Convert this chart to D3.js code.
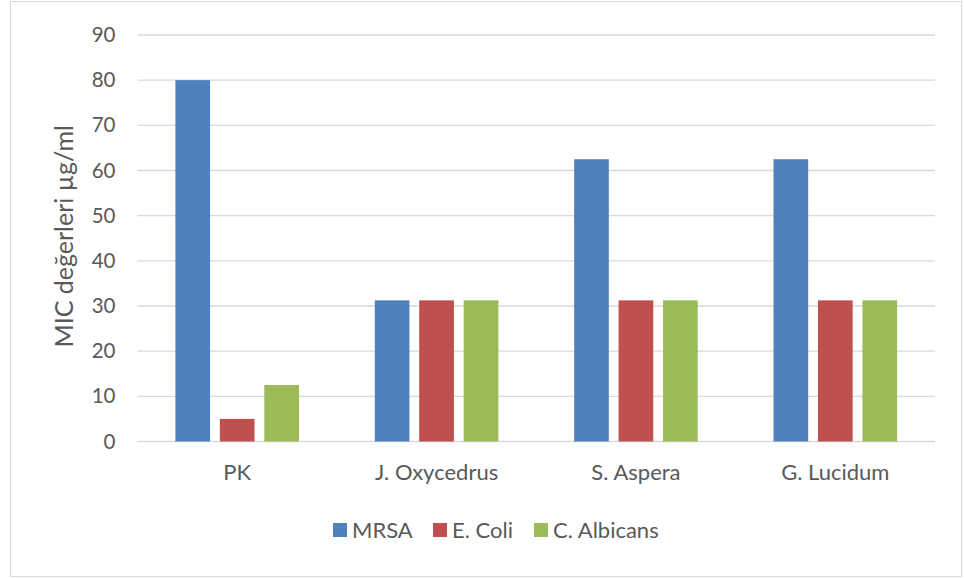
<!DOCTYPE html>
<html>
<head>
<meta charset="utf-8">
<script src="https://cdn.jsdelivr.net/npm/d3@7"></script>
<style>
  html, body { margin: 0; padding: 0; background: #fff; }
  svg text { font-family: Lato, "Open Sans", sans-serif; fill: #595959; }
</style>
</head>
<body>
<svg id="chart" width="964" height="578"></svg>
<script>
// Extracts, MIC values per organism
const categories = ["PK", "J. Oxycedrus", "S. Aspera", "G. Lucidum"];
const seriesNames = ["MRSA", "E. Coli", "C. Albicans"];
const mrsa = [80, 31.25, 62.5, 62.5];
const eColi = [5, 31.25, 31.25, 31.25];
const cAlbicans = [12.5, 31.25, 31.25, 31.25];
const yTicks = [0, 10, 20, 30, 40, 50, 60, 70, 80, 90];
const colors = ["#4F81BD", "#C0504D", "#9BBB59"];

const seriesValues = [mrsa, eColi, cAlbicans];
const rows = categories.map((c, i) => ({
  category: c,
  values: seriesNames.map((s, j) => ({ series: s, value: seriesValues[j][i], color: colors[j] }))
}));

const svg = d3.select("#chart");

// outer frame
svg.append("rect")
  .attr("x", 10.5).attr("y", 1.5)
  .attr("width", 951).attr("height", 575)
  .attr("fill", "#fff").attr("stroke", "#d9d9d9").attr("stroke-width", 1);

const plot = { left: 137.5, right: 935, top: 35, bottom: 441.5 };

const y = d3.scaleLinear().domain([0, 90]).range([plot.bottom, plot.top]);
const x0 = d3.scaleBand().domain(categories).range([plot.left, plot.right]).padding(0);
const groupWidth = 123.6;
const x1 = d3.scaleBand().domain(seriesNames).range([0, groupWidth]).paddingInner(0.22).paddingOuter(0);
const groupOffset = (x0.bandwidth() - groupWidth) / 2;

// gridlines
svg.append("g")
  .selectAll("line")
  .data(yTicks)
  .join("line")
  .attr("x1", plot.left).attr("x2", plot.right)
  .attr("y1", d => y(d)).attr("y2", d => y(d))
  .attr("stroke", "#d9d9d9").attr("stroke-width", 1.3);

// y axis tick labels
const yAxis = d3.axisLeft(y).tickValues(yTicks).tickSize(0).tickPadding(0);
const yg = svg.append("g").attr("transform", `translate(${plot.left - 22},0)`).call(yAxis);
yg.select(".domain").remove();
yg.selectAll("text").attr("font-size", 20.5).attr("fill", "#595959")
  .style("font-family", "Lato, 'Open Sans', sans-serif");

// bars
const groups = svg.append("g")
  .selectAll("g")
  .data(rows)
  .join("g")
  .attr("transform", d => `translate(${x0(d.category) + groupOffset},0)`);

groups.selectAll("rect")
  .data(d => d.values)
  .join("rect")
  .attr("x", d => x1(d.series))
  .attr("width", x1.bandwidth())
  .attr("y", d => y(d.value))
  .attr("height", d => y(0) - y(d.value))
  .attr("fill", d => d.color);

// x axis category labels
const xAxis = d3.axisBottom(x0).tickSize(0).tickPadding(0);
const xg = svg.append("g").attr("transform", `translate(0,${plot.bottom + 22.5})`).call(xAxis);
xg.select(".domain").remove();
xg.selectAll("text").attr("font-size", 22).attr("fill", "#595959")
  .attr("dy", "0.71em")
  .style("font-family", "Lato, 'Open Sans', sans-serif");

// y axis title
svg.append("text")
  .attr("transform", `translate(73,${(plot.top + plot.bottom) / 2 - 2}) rotate(-90)`)
  .attr("text-anchor", "middle")
  .attr("font-size", 25)
  .text("MIC değerleri µg/ml");

// legend
const legendX = [333, 433, 534];
const legend = svg.append("g")
  .selectAll("g")
  .data(seriesNames)
  .join("g")
  .attr("transform", (d, i) => `translate(${legendX[i]},523)`);
legend.append("rect").attr("width", 14).attr("height", 14).attr("fill", (d, i) => colors[i]);
legend.append("text").attr("x", 19).attr("y", 15).attr("font-size", 22).text(d => d);
</script>
</body>
</html>
